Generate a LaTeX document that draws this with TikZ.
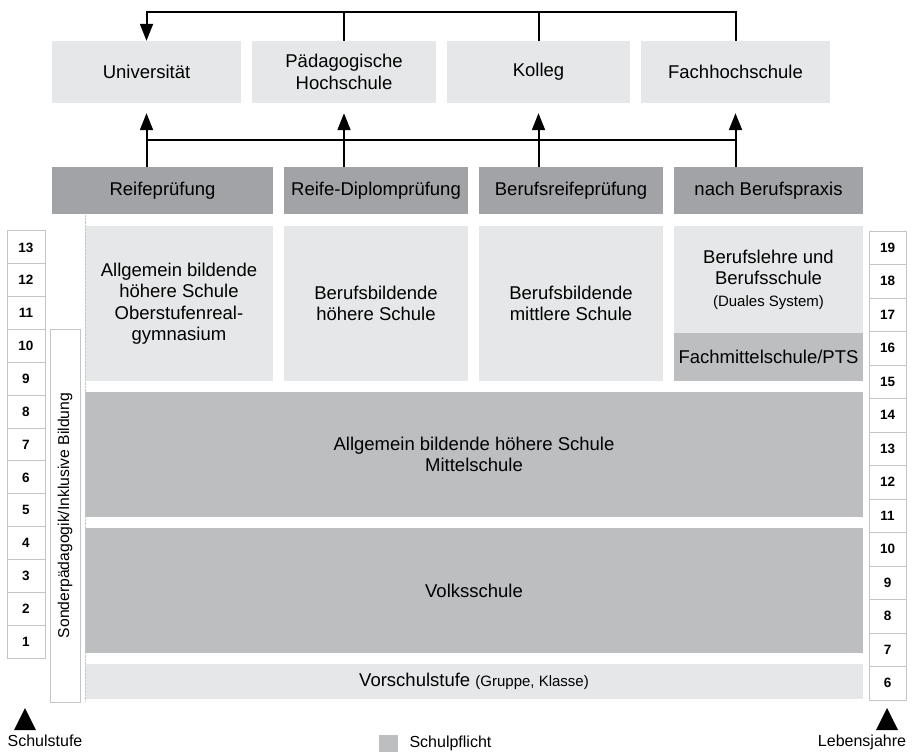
\documentclass[tikz,border=0pt]{standalone}
\usepackage{fontspec}
\setmainfont{Liberation Sans}
\usetikzlibrary{arrows.meta}

\definecolor{hell}{HTML}{E6E7E8}
\definecolor{pflicht}{HTML}{BCBEC0}
\definecolor{dunkel}{HTML}{A2A3A6}
\definecolor{rand}{HTML}{C4C5C7}

\begin{document}
\begin{tikzpicture}[x=1pt,y=-1pt,
    feld/.style={inner sep=0pt, align=center, font=\fontsize{18.5}{21.5}\selectfont},
    zahl/.style={draw=rand, line width=1pt, fill=white, inner sep=0pt,
      font=\fontsize{13.5}{15}\selectfont\bfseries},
    legende/.style={font=\fontsize{16}{18}\selectfont, anchor=base},
    linie/.style={line width=2pt},
    pfeil/.style={line width=2pt, -{Triangle[width=13pt,length=17pt]}}]

  \useasboundingbox (0,0) rectangle (912,752);

  % Hochschulen
  \begin{scope}[every node/.style={feld, fill=hell, minimum height=62pt}]
    \node[minimum width=189pt] (uni)    at (146.5,72) {Universität};
    \node[minimum width=184pt] (ph)     at (344,72)   {Pädagogische\\Hochschule};
    \node[minimum width=183pt] (kolleg) at (538.5,72) {Kolleg};
    \node[minimum width=189pt] (fh)     at (735.5,72) {Fachhochschule};
  \end{scope}

  % Abschluesse
  \begin{scope}[every node/.style={feld, fill=dunkel, minimum height=47pt}]
    \node[minimum width=221pt] (reife) at (162.5,190.5) {Reifeprüfung};
    \node[minimum width=184pt] (rdp)   at (376,190.5)   {Reife-Diplomprüfung};
    \node[minimum width=184pt] (brp)   at (571,190.5)   {Berufsreifeprüfung};
    \node[minimum width=189pt] (nbp)   at (768.5,190.5) {nach Berufspraxis};
  \end{scope}

  % Schulen
  \begin{scope}[every node/.style={feld, fill=hell}]
    \node[minimum width=188pt, minimum height=155pt] (ahs) at (179,303.5)
      {Allgemein bildende\\höhere Schule\\Oberstufenreal-\\gymnasium};
    \node[minimum width=184pt, minimum height=155pt] (bhs) at (376,303.5)
      {Berufsbildende\\höhere Schule};
    \node[minimum width=184pt, minimum height=155pt] (bms) at (571,303.5)
      {Berufsbildende\\mittlere Schule};
    \node[minimum width=189pt, minimum height=107pt] (lehre) at (768.5,279.5)
      {Berufslehre und\\Berufsschule\\{\fontsize{15}{19}\selectfont(Duales System)}};
    \node[fill=pflicht, minimum width=189pt, minimum height=48pt] (fms) at (768.5,357)
      {Fachmittelschule/PTS};
    \node[fill=pflicht, minimum width=778pt, minimum height=125pt] (ms) at (474,454.5)
      {Allgemein bildende höhere Schule\\Mittelschule};
    \node[fill=pflicht, minimum width=778pt, minimum height=125pt] (vs) at (474,590.5)
      {Volksschule};
    \node[minimum width=778pt, minimum height=35pt] (vor) at (474,681.5)
      {Vorschulstufe {\fontsize{15}{17}\selectfont(Gruppe, Klasse)}};
  \end{scope}

  \draw[rand, densely dotted] (85,215) -- (85,702);

  % Sonderpaedagogik
  \node[draw=rand, line width=1pt, fill=white, minimum width=30pt, minimum height=373pt,
    inner sep=0pt] (sonder) at (65,515.5) {};
  \node[rotate=90, font=\fontsize{15.7}{18}\selectfont] (sondertext) at (sonder.center)
    {Sonderpädagogik/Inklusive Bildung};

  % Schulstufen und Lebensjahre
  \foreach \n in {1,...,13}
    \node[zahl, minimum width=38pt, minimum height=32.85pt] (s\n)
      at (26, 247.4+32.85*13-32.85*\n) {\n};
  \foreach \n in {6,...,19}
    \node[zahl, minimum width=37pt, minimum height=33.5pt] (l\n)
      at (887.5, 247.75+33.5*19-33.5*\n) {\n};

  % Pfeile
  \coordinate (oben) at (0,12);
  \coordinate (mitte) at (0,140);
  \draw[pfeil] (fh.north) -- (fh.north |- oben) -- (uni.north |- oben) -- (uni.north);
  \draw[linie] (ph.north) -- (ph.north |- oben);
  \draw[linie] (kolleg.north) -- (kolleg.north |- oben);
  \draw[linie] (uni.south |- mitte) -- (fh.south |- mitte);
  \foreach \z in {uni,ph,kolleg,fh}
    \draw[pfeil, shorten >=10pt] (reife.north -| \z.south) -- (\z.south);

  % Legende
  \node[legende] (stufe) at (45,746) {Schulstufe};
  \node[legende] (jahre) at (862,746) {Lebensjahre};
  \fill (14,730) -- (36,730) -- (25,708) -- cycle;
  \fill (876,730) -- (898,730) -- (887,708) -- cycle;
  \fill[pflicht] (379,735) rectangle (398,752);
  \node[legende, anchor=base west] (pflicht) at (406,747) {Schulpflicht};

\end{tikzpicture}
\end{document}
